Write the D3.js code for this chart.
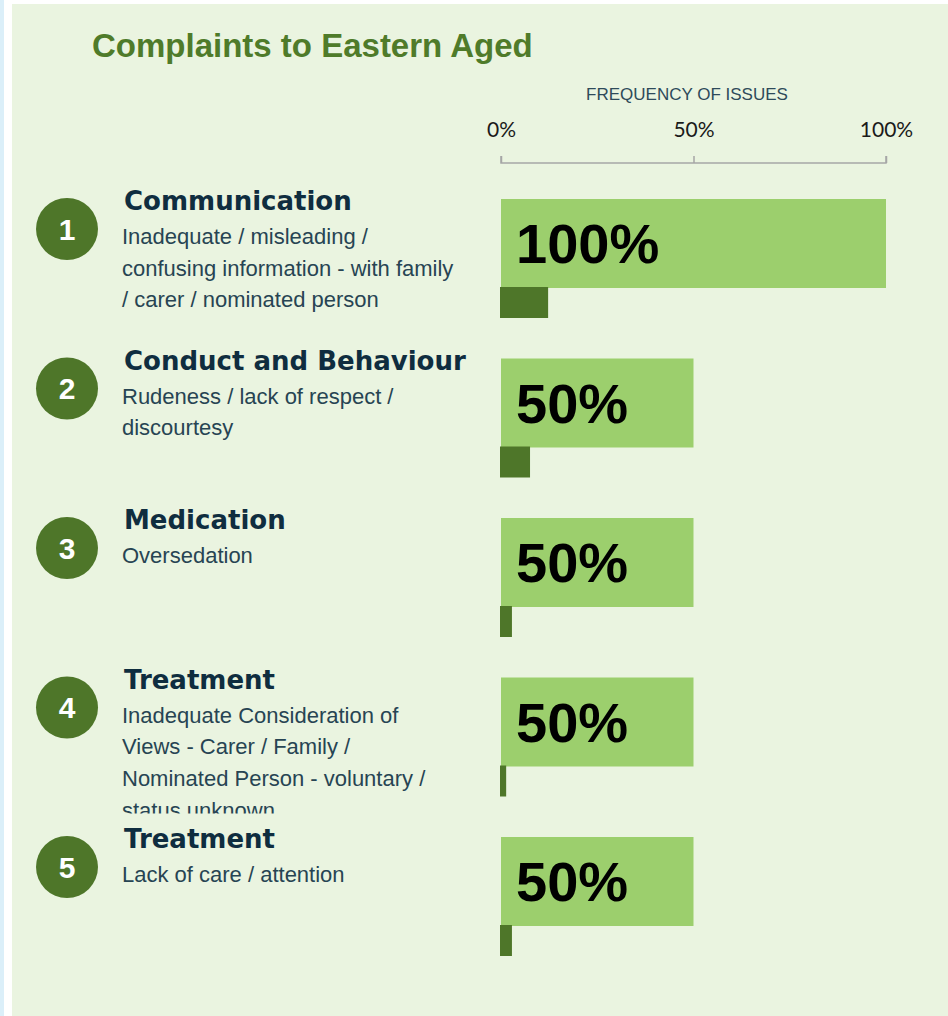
<!DOCTYPE html>
<html>
<head>
<meta charset="utf-8">
<script src="https://cdn.jsdelivr.net/npm/d3@7"></script>
<style>
  html, body { margin: 0; padding: 0; background: #ffffff; }
  svg { display: block; }
</style>
</head>
<body>
<script>
// ---- data ----
const title = "Complaints to Eastern Aged";
const axisTitle = "FREQUENCY OF ISSUES";
const ranks = [1, 2, 3, 4, 5];
const categories = ["Communication", "Conduct and Behaviour", "Medication", "Treatment", "Treatment"];
const descriptions = [
  ["Inadequate / misleading /", "confusing information - with family", "/ carer / nominated person"],
  ["Rudeness / lack of respect /", "discourtesy"],
  ["Oversedation"],
  ["Inadequate Consideration of", "Views - Carer / Family /", "Nominated Person - voluntary /", "status unknown"],
  ["Lack of care / attention"]
];
const frequency = [100, 50, 50, 50, 50];
const secondary = [12.5, 7.8, 3.1, 1.6, 3.1];
const tickValues = [0, 50, 100];

// ---- layout ----
const W = 948, H = 1016;
const svg = d3.select("body").append("svg").attr("width", W).attr("height", H);

svg.append("rect").attr("x", 0).attr("y", 0).attr("width", 4).attr("height", H).attr("fill", "#dbeff9");
svg.append("rect").attr("x", 12).attr("y", 4).attr("width", W - 12).attr("height", H - 4).attr("fill", "#eaf4e0");

svg.append("text").attr("x", 92).attr("y", 57)
  .attr("font-family", "'Liberation Sans', Arial, sans-serif").attr("font-weight", "bold")
  .attr("font-size", 33).attr("fill", "#4f7b2a").text(title);

const x = d3.scaleLinear().domain([0, 100]).range([501, 886]);
const rows = d3.scaleBand().domain(d3.range(ranks.length)).range([199, 199 + 159.5 * ranks.length]);

// axis
svg.append("text").attr("x", 687).attr("y", 100).attr("text-anchor", "middle")
  .attr("font-family", "'Liberation Sans', Arial, sans-serif").attr("font-size", 17)
  .attr("fill", "#2e4a5a").text(axisTitle);

const axis = d3.axisTop(x).tickValues(tickValues).tickFormat(d => d + "%").tickSize(7).tickPadding(19);
const ag = svg.append("g").attr("transform", "translate(0,163)").call(axis);
ag.select(".domain").attr("stroke", "#a6a6a6").attr("stroke-width", 1.5)
  .attr("d", `M${x(0)},-7V0H${x(100)}V-7`);
ag.selectAll(".tick line").attr("stroke", "#a6a6a6").attr("stroke-width", 1.5);
ag.selectAll(".tick text").attr("font-family", "Lato, 'Open Sans', sans-serif").attr("font-size", 21)
  .attr("fill", "#1a1a1a");

// rows
const defs = svg.append("defs");
ranks.forEach((r, i) => {
  defs.append("clipPath").attr("id", "clip" + i)
    .append("rect").attr("x", 110).attr("y", rows(i) - 30).attr("width", 380).attr("height", 166);
});

const g = svg.selectAll("g.row").data(ranks).join("g").attr("class", "row");

g.append("circle").attr("cx", 67).attr("cy", (d, i) => rows(i) + 30).attr("r", 31).attr("fill", "#4e7629");
g.append("text").attr("x", 67).attr("y", (d, i) => rows(i) + 30).attr("dy", "0.36em")
  .attr("text-anchor", "middle").attr("font-family", "'Liberation Sans', Arial, sans-serif")
  .attr("font-weight", "bold").attr("font-size", 30).attr("fill", "#ffffff").text(d => d);

const tg = g.append("g").attr("clip-path", (d, i) => `url(#clip${i})`);
tg.append("text").attr("x", 124).attr("y", (d, i) => rows(i) + 11)
  .attr("font-family", "'DejaVu Sans', sans-serif").attr("font-weight", "bold")
  .attr("font-size", 26).attr("fill", "#0f2d3f").text((d, i) => categories[i]);
tg.each(function(d, i) {
  d3.select(this).append("text")
    .attr("font-family", "'Liberation Sans', Arial, sans-serif").attr("font-size", 22).attr("fill", "#274453")
    .selectAll("tspan").data(descriptions[i]).join("tspan")
    .attr("x", 122).attr("y", (t, j) => rows(i) + 45 + j * 31.7).text(t => t);
});

g.append("rect").attr("x", x(0)).attr("y", (d, i) => rows(i))
  .attr("width", (d, i) => x(frequency[i]) - x(0)).attr("height", 89).attr("fill", "#9ccf6d");
g.append("rect").attr("x", x(0) - 1).attr("y", (d, i) => rows(i) + 88)
  .attr("width", (d, i) => x(secondary[i]) - x(0)).attr("height", 31).attr("fill", "#4e7629");
g.append("text").attr("x", x(0) + 15).attr("y", (d, i) => rows(i) + 64)
  .attr("font-family", "'Liberation Sans', Arial, sans-serif").attr("font-weight", "bold")
  .attr("font-size", 56).attr("fill", "#000000").text((d, i) => frequency[i] + "%");
</script>
</body>
</html>
